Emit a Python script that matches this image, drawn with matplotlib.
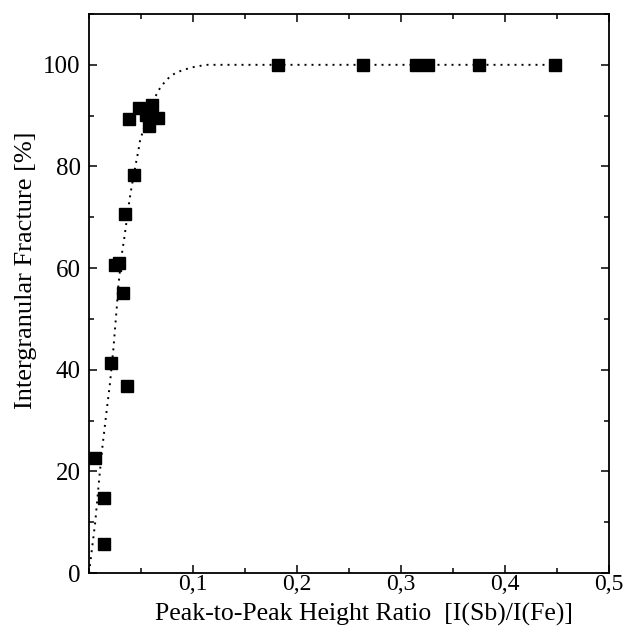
import matplotlib
matplotlib.use("Agg")
import matplotlib.pyplot as plt
from matplotlib.ticker import MultipleLocator, FixedLocator, FuncFormatter

plt.rcParams['font.family'] = ['Liberation Serif', 'DejaVu Serif']

# Measured data points (Peak-to-peak ratio, intergranular fracture %)
ratio = [0.006, 0.014, 0.014, 0.021, 0.025, 0.029, 0.033, 0.035, 0.037,
         0.038, 0.043, 0.048, 0.055, 0.058, 0.061, 0.066,
         0.182, 0.263, 0.314, 0.326, 0.375, 0.448]
fracture = [22.6, 14.7, 5.7, 41.3, 60.7, 61.1, 55.0, 70.7, 36.7,
            89.4, 78.4, 91.6, 90.2, 88.0, 92.1, 89.6,
            100, 100, 100, 100, 100, 100]

# Fit curve
fit_x = [0.000, 0.003, 0.006, 0.010, 0.013, 0.017, 0.020, 0.0234, 0.0266, 0.028,
         0.031, 0.034, 0.036, 0.039, 0.041, 0.045, 0.0474, 0.049, 0.056, 0.0635,
         0.0666, 0.070, 0.074, 0.078, 0.084, 0.091, 0.099, 0.107, 0.114, 0.20,
         0.30, 0.40, 0.452]
fit_y = [0.0, 5.0, 10.0, 19.0, 25.0, 32.0, 37.0, 44.0, 52.0, 56.0,
         62.0, 66.0, 69.0, 73.5, 76.0, 80.5, 83.0, 85.0, 89.8, 93.6,
         94.9, 95.9, 96.9, 97.7, 98.5, 99.0, 99.5, 99.8, 100.0, 100.0,
         100.0, 100.0, 100.0]

x_ticks = [0.1, 0.2, 0.3, 0.4, 0.5]
y_ticks = [0, 20, 40, 60, 80, 100]

fig = plt.figure(figsize=(6.25, 6.32), dpi=100)
ax = fig.add_axes([89/625, 1 - 573/632, 520/625, (573 - 14)/632])

ax.plot(fit_x, fit_y, color='black', lw=1.4, linestyle=(0, (1, 2.6)), zorder=2)
ax.plot(ratio, fracture, 's', color='black', markersize=8.5, zorder=3)

ax.set_xlim(0, 0.5)
ax.set_ylim(0, 110)
ax.xaxis.set_major_locator(FixedLocator(x_ticks))
ax.xaxis.set_minor_locator(MultipleLocator(0.05))
ax.yaxis.set_major_locator(FixedLocator(y_ticks))
ax.yaxis.set_minor_locator(MultipleLocator(10))
ax.xaxis.set_major_formatter(FuncFormatter(lambda v, p: f"{v:.1f}".replace('.', ',')))

ax.tick_params(which='both', direction='in', top=True, right=True, labelsize=18, width=1.1)
ax.tick_params(which='major', length=6)
ax.tick_params(which='minor', length=3.5)
ax.tick_params(axis='x', pad=1, labelsize=17)
ax.tick_params(axis='y', pad=6)
for s in ax.spines.values():
    s.set_linewidth(1.3)

ax.set_xlabel('Peak-to-Peak Height Ratio  [I(Sb)/I(Fe)]', fontsize=18.5)
ax.set_ylabel('Intergranular Fracture [%]', fontsize=19)
ax.xaxis.set_label_coords(0.529, -0.054)
ax.yaxis.set_label_coords(-0.1, 0.542)

fig.savefig('out.png', dpi=100)
